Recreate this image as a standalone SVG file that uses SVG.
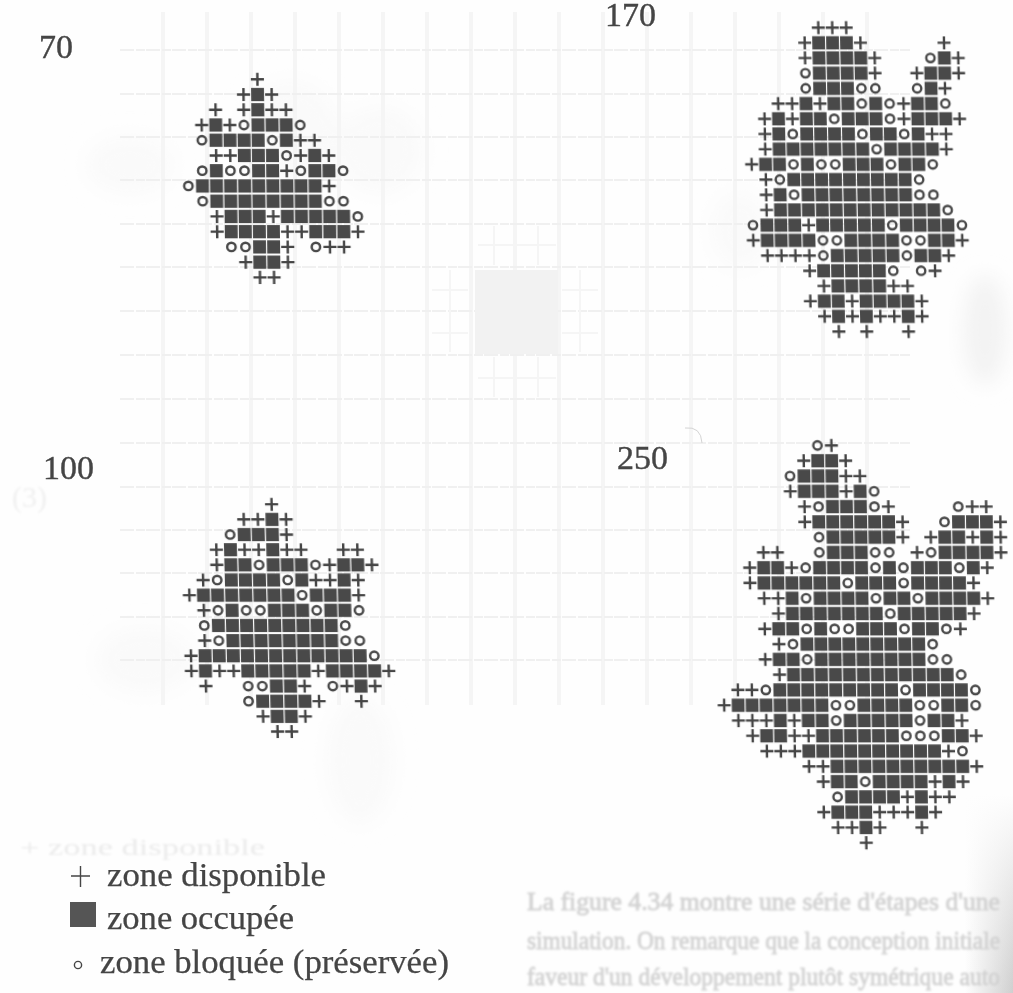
<svg xmlns="http://www.w3.org/2000/svg" width="1013" height="993" viewBox="0 0 1013 993">
<style>
.p,.s,.c{fill:none;stroke:none}
.p{marker-start:url(#mp);marker-mid:url(#mp);marker-end:url(#mp)}
.s{marker-start:url(#ms);marker-mid:url(#ms);marker-end:url(#ms)}
.c{marker-start:url(#mc);marker-mid:url(#mc);marker-end:url(#mc)}
.lab{font-family:"Liberation Serif",serif;font-size:34px;fill:#444;stroke:#444;stroke-width:0.4}
.leg{font-family:"Liberation Serif",serif;font-size:33px;fill:#444;stroke:#444;stroke-width:0.25}
.gh{font-family:"Liberation Serif",serif;font-size:26px;fill:#d2d2d2;stroke:#d2d2d2;stroke-width:0.8}
.v{stroke:#f5f5f5;stroke-width:4;fill:none}
.h{stroke:#f0f0f0;stroke-width:2;fill:none}
.t{stroke:#f5f5f5;stroke-width:2;fill:none}
</style>
<defs>
<marker id="mp" viewBox="-7 -7.6 14 15.2" markerUnits="userSpaceOnUse" markerWidth="1" markerHeight="1" preserveAspectRatio="none" overflow="visible"><path d="M-6.5 0H6.5M0-6.5V6.5" stroke="#444" stroke-width="2.4" fill="none"/></marker>
<marker id="ms" viewBox="-7 -7.6 14 15.2" markerUnits="userSpaceOnUse" markerWidth="1" markerHeight="1" preserveAspectRatio="none" overflow="visible"><rect x="-6.4" y="-6.6" width="12.8" height="13.2" fill="#4a4a4a"/></marker>
<marker id="mc" viewBox="-7 -7.6 14 15.2" markerUnits="userSpaceOnUse" markerWidth="1" markerHeight="1" preserveAspectRatio="none" overflow="visible"><circle r="4.2" fill="none" stroke="#484848" stroke-width="2.4"/></marker>
<filter id="soft" x="-5%" y="-5%" width="110%" height="110%"><feGaussianBlur stdDeviation="0.45"/></filter>
<filter id="grid" x="-2%" y="-2%" width="104%" height="104%"><feGaussianBlur stdDeviation="0.7"/></filter>
<filter id="ghost" x="-5%" y="-20%" width="110%" height="140%"><feGaussianBlur stdDeviation="1"/></filter>
<filter id="cloud" x="-30%" y="-30%" width="160%" height="160%"><feGaussianBlur stdDeviation="10"/></filter>
<linearGradient id="gut" x1="0" x2="1" y1="0" y2="0"><stop offset="0" stop-color="#bbb" stop-opacity="0"/><stop offset="1" stop-color="#bbb" stop-opacity="0.7"/></linearGradient>
<linearGradient id="gut2" x1="0" x2="0" y1="0" y2="1"><stop offset="0.8" stop-color="#fefefe" stop-opacity="1"/><stop offset="1" stop-color="#fefefe" stop-opacity="0"/></linearGradient>
</defs>
<rect width="1013" height="993" fill="#fefefe"/>
<g id="show-through">
<g filter="url(#cloud)" fill="#fafafa">
<ellipse cx="130" cy="165" rx="45" ry="30"/><ellipse cx="290" cy="130" rx="50" ry="50"/><ellipse cx="380" cy="150" rx="45" ry="45"/>
<ellipse cx="145" cy="660" rx="50" ry="35"/><ellipse cx="360" cy="760" rx="35" ry="65"/><ellipse cx="740" cy="230" rx="30" ry="40"/>
</g>
<rect x="965" y="0" width="48" height="993" fill="url(#gut)"/>
<rect x="960" y="0" width="53" height="993" fill="url(#gut2)"/>
<g filter="url(#cloud)" fill="#f3f3f3"><ellipse cx="985" cy="330" rx="22" ry="55"/></g>
<g filter="url(#grid)">
<path class="v" d="M163 12V705M207 12V705M251 12V705M295 12V705M339 12V705M383 12V705M427 12V705M471 12V705M515 12V705M559 12V705M603 12V705M647 12V705M691 12V705M735 12V705M779 12V705M823 12V705M867 12V705"/>
<path class="h" stroke-dasharray="14 2 9 1" d="M120 50H910M120 94H910M120 137H910M120 180H910M120 224H910M120 267H910M120 311H910M120 355H910M120 399H910M120 443H910M120 487H910M120 530H910M120 573H910M120 617H910M120 660H910"/>
<rect x="475" y="270" width="83" height="84" fill="#f2f2f2"/>
<path class="t" d="M494 226V265M538 226V265M478 245H556M494 357V397M538 357V397M478 378H556M450 270V352M432 290H468M432 333H468M580 270V352M562 290H598M562 333H598"/>
</g>
<path d="M685 428Q701 426 702 443" fill="none" stroke="#d4d4d4" stroke-width="1"/>
<g filter="url(#ghost)">
<text class="gh" x="527" y="910" textLength="473" lengthAdjust="spacingAndGlyphs">La figure 4.34 montre une série d'étapes d'une</text>
<text class="gh" x="527" y="949" textLength="473" lengthAdjust="spacingAndGlyphs">simulation. On remarque que la conception initiale</text>
<text class="gh" x="527" y="985" textLength="473" lengthAdjust="spacingAndGlyphs">faveur d'un développement plutôt symétrique auto</text>
<text x="20" y="855" font-family="Liberation Serif,serif" font-size="24" fill="#ebebeb" textLength="245" lengthAdjust="spacingAndGlyphs">+ zone disponible</text>
<text x="12" y="507" font-family="Liberation Serif,serif" font-size="30" fill="#f0f0f0">(3)</text>
</g>
</g>
<g id="panel-70" filter="url(#soft)">
<text class="lab" x="39" y="58">70</text>
<g transform="matrix(14.08,0,0.2,15.24,187,79.3)">
<polyline class="p" points="5,0 4,1 6,1 2,2 4,2 6,2 7,2 1,3 3,3 8,4 9,4 2,5 3,5 8,5 10,5 7,6 10,7 2,9 6,9 2,10 7,10 8,10 12,10 7,11 10,11 11,11 4,12 7,12 5,13 6,13"/>
<polyline class="s" points="5,1 5,2 2,3 5,3 6,3 7,3 2,4 3,4 4,4 5,4 7,4 4,5 5,5 6,5 9,5 2,6 5,6 6,6 9,6 10,6 1,7 2,7 3,7 4,7 5,7 6,7 7,7 8,7 9,7 2,8 3,8 4,8 5,8 6,8 7,8 8,8 9,8 3,9 4,9 5,9 7,9 8,9 9,9 10,9 11,9 3,10 4,10 5,10 6,10 9,10 10,10 11,10 5,11 6,11 5,12 6,12"/>
<polyline class="c" points="4,3 8,3 1,4 6,4 7,5 1,6 3,6 4,6 8,6 11,6 0,7 1,8 10,8 11,8 12,9 3,11 4,11 9,11"/>
</g>
</g>
<g id="panel-170" filter="url(#soft)">
<text class="lab" x="605" y="26">170</text>
<g transform="matrix(13.93,0,0.333,15.2,748.67,27.6)">
<polyline class="p" points="5,0 6,0 7,0 4,1 8,1 14,1 4,2 9,2 15,2 9,3 12,3 15,3 14,4 2,5 3,5 5,5 11,5 1,6 3,6 11,6 15,6 1,7 13,7 14,7 1,8 14,8 0,9 1,10 1,11 1,12 4,13 0,14 15,14 1,15 2,15 3,15 4,15 14,15 4,16 13,16 5,17 10,17 11,17 4,18 7,18 12,18 5,19 7,19 9,19 10,19 12,19 6,20 8,20 11,20"/>
<polyline class="s" points="5,1 6,1 7,1 5,2 6,2 7,2 8,2 14,2 5,3 6,3 7,3 8,3 13,3 14,3 5,4 6,4 7,4 13,4 4,5 6,5 7,5 9,5 12,5 13,5 2,6 4,6 5,6 7,6 8,6 9,6 12,6 13,6 14,6 2,7 4,7 5,7 6,7 7,7 9,7 10,7 12,7 2,8 3,8 4,8 5,8 6,8 7,8 8,8 10,8 11,8 12,8 13,8 1,9 2,9 4,9 7,9 8,9 9,9 11,9 12,9 3,10 4,10 5,10 6,10 7,10 8,10 9,10 10,10 11,10 2,11 4,11 5,11 6,11 7,11 8,11 9,11 10,11 11,11 2,12 3,12 4,12 5,12 6,12 7,12 8,12 9,12 10,12 11,12 12,12 13,12 1,13 2,13 3,13 5,13 6,13 7,13 8,13 9,13 11,13 12,13 13,13 14,13 1,14 2,14 3,14 4,14 7,14 8,14 9,14 10,14 13,14 14,14 6,15 7,15 8,15 9,15 10,15 12,15 13,15 5,16 6,16 7,16 8,16 9,16 6,17 7,17 8,17 9,17 5,18 6,18 8,18 9,18 10,18 11,18 6,19 8,19 11,19"/>
<polyline class="c" points="13,2 4,3 4,4 8,4 9,4 12,4 8,5 10,5 14,5 6,6 10,6 3,7 8,7 11,7 9,8 3,9 5,9 6,9 10,9 13,9 2,10 12,10 3,11 12,11 13,11 14,12 0,13 10,13 15,13 5,14 6,14 11,14 12,14 5,15 11,15 10,16 12,16"/>
</g>
</g>
<g id="panel-100" filter="url(#soft)">
<text class="lab" x="43" y="479">100</text>
<g transform="matrix(14.1,0,0.4,15.15,187,504.3)">
<polyline class="p" points="6,0 4,1 5,1 7,1 7,2 2,3 4,3 5,3 7,3 8,3 11,3 12,3 2,4 10,4 13,4 1,5 9,5 10,5 12,5 0,6 12,6 1,7 1,9 0,10 0,11 2,11 3,11 9,11 14,11 1,12 8,12 11,12 13,12 9,13 12,13 5,14 8,14 6,15 7,15"/>
<polyline class="s" points="6,1 4,2 5,2 6,2 3,3 6,3 3,4 4,4 6,4 7,4 8,4 11,4 12,4 3,5 4,5 5,5 6,5 8,5 11,5 1,6 2,6 3,6 4,6 5,6 6,6 7,6 9,6 10,6 11,6 3,7 6,7 7,7 8,7 10,7 11,7 2,8 3,8 4,8 5,8 6,8 7,8 8,8 9,8 10,8 3,9 4,9 5,9 6,9 7,9 8,9 9,9 10,9 1,10 2,10 3,10 4,10 5,10 6,10 7,10 8,10 9,10 10,10 11,10 12,10 1,11 4,11 5,11 6,11 7,11 8,11 10,11 11,11 12,11 13,11 6,12 7,12 12,12 5,13 6,13 7,13 8,13 6,14 7,14"/>
<polyline class="c" points="3,2 5,4 9,4 2,5 7,5 8,6 2,7 4,7 5,7 9,7 12,7 1,8 11,8 2,9 11,9 12,9 13,10 4,12 5,12 10,12 4,13"/>
</g>
</g>
<g id="panel-250" filter="url(#soft)">
<text class="lab" x="617" y="469">250</text>
<g transform="matrix(13.97,0,0.267,15.28,719.67,445.5)">
<polyline class="p" points="8,0 6,1 9,1 9,2 10,2 5,3 9,3 6,4 12,4 18,4 19,4 6,5 13,5 20,5 13,6 15,6 18,6 20,6 3,7 4,7 14,7 20,7 2,8 5,8 19,8 2,9 18,9 3,10 4,10 19,10 4,11 18,11 3,12 17,12 4,13 3,14 4,15 1,16 2,16 0,17 1,18 2,18 3,18 5,18 17,18 2,19 5,19 6,19 18,19 3,20 4,20 5,20 16,20 6,21 7,21 18,21 7,22 15,22 17,22 13,23 15,23 16,23 7,24 11,24 12,24 13,24 15,24 8,25 9,25 11,25 14,25 10,26"/>
<polyline class="s" points="7,1 8,1 6,2 7,2 8,2 6,3 7,3 8,3 10,3 8,4 9,4 10,4 7,5 8,5 9,5 10,5 11,5 12,5 17,5 18,5 19,5 8,6 9,6 10,6 11,6 12,6 16,6 17,6 19,6 8,7 9,7 10,7 16,7 17,7 18,7 19,7 3,8 4,8 7,8 8,8 9,8 10,8 12,8 14,8 15,8 16,8 18,8 3,9 4,9 5,9 6,9 7,9 8,9 10,9 11,9 12,9 14,9 15,9 16,9 17,9 5,10 7,10 8,10 9,10 10,10 12,10 13,10 15,10 16,10 17,10 18,10 5,11 6,11 7,11 8,11 9,11 10,11 11,11 13,11 14,11 15,11 16,11 17,11 4,12 5,12 7,12 10,12 11,12 12,12 14,12 15,12 6,13 7,13 8,13 9,13 10,13 11,13 12,13 13,13 14,13 4,14 5,14 7,14 8,14 9,14 10,14 11,14 12,14 13,14 14,14 5,15 6,15 7,15 8,15 9,15 10,15 11,15 12,15 13,15 14,15 15,15 16,15 4,16 5,16 6,16 7,16 8,16 9,16 10,16 11,16 12,16 14,16 15,16 16,16 17,16 1,17 2,17 3,17 4,17 5,17 6,17 7,17 10,17 11,17 12,17 13,17 16,17 17,17 4,18 6,18 7,18 9,18 10,18 11,18 12,18 13,18 15,18 16,18 3,19 4,19 7,19 8,19 9,19 10,19 11,19 12,19 16,19 17,19 6,20 7,20 8,20 9,20 10,20 11,20 12,20 13,20 14,20 15,20 8,21 9,21 10,21 11,21 12,21 13,21 14,21 15,21 16,21 17,21 8,22 9,22 11,22 12,22 13,22 14,22 16,22 9,23 10,23 11,23 12,23 14,23 8,24 9,24 10,24 14,24 10,25"/>
<polyline class="c" points="7,0 5,2 11,3 7,4 11,4 17,4 16,5 7,6 7,7 11,7 12,7 15,7 6,8 11,8 13,8 17,8 9,9 13,9 6,10 11,10 14,10 12,11 6,12 8,12 9,12 13,12 16,12 5,13 15,13 6,14 15,14 16,14 17,15 3,16 13,16 18,16 8,17 9,17 14,17 15,17 18,17 8,18 14,18 13,19 14,19 15,19 17,20 10,22 8,23"/>
</g>
</g>
<g id="legend" filter="url(#soft)">
<path d="M71 876H90M80.5 866V887" stroke="#444" stroke-width="1.4" fill="none"/>
<text class="leg" x="107" y="886" textLength="219" lengthAdjust="spacingAndGlyphs">zone disponible</text>
<rect x="70" y="902" width="26" height="25" fill="#555"/>
<text class="leg" x="107" y="929" textLength="187" lengthAdjust="spacingAndGlyphs">zone occupée</text>
<circle cx="78" cy="965" r="3.6" fill="none" stroke="#444" stroke-width="1.4"/>
<text class="leg" x="100" y="973" textLength="349" lengthAdjust="spacingAndGlyphs">zone bloquée (préservée)</text>
</g>
</svg>
